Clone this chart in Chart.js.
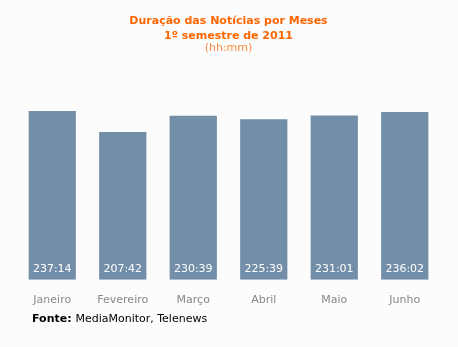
<!DOCTYPE html>
<html lang="pt">
<head>
<meta charset="UTF-8">
<title>Duração das Notícias por Meses</title>
<script src="https://cdn.jsdelivr.net/npm/chart.js"></script>
<style>
  html, body { margin: 0; padding: 0; background: #fcfcfc; }
  #wrap { width: 458px; height: 347px; position: relative; }
</style>
</head>
<body>
<div id="wrap"><canvas id="chart"></canvas></div>
<script>
// meses do 1º semestre e duração em hh:mm
const months = ['Janeiro', 'Fevereiro', 'Março', 'Abril', 'Maio', 'Junho'];
const durations = ['237:14', '207:42', '230:39', '225:39', '231:01', '236:02'];
const source = 'MediaMonitor, Telenews';

// converte "hh:mm" em horas decimais para a escala
const hours = durations.map(d => {
  const [h, m] = d.split(':').map(Number);
  return h + m / 60;
});

const FONT = 'DejaVu Sans, Verdana, sans-serif';

// rótulo hh:mm no fundo de cada barra + fonte no rodapé
const labelsPlugin = {
  id: 'labels',
  afterDatasetsDraw(chart) {
    const ctx = chart.ctx;
    const meta = chart.getDatasetMeta(0);
    ctx.save();
    ctx.fillStyle = '#ffffff';
    ctx.font = '11px ' + FONT;
    ctx.textAlign = 'center';
    ctx.textBaseline = 'alphabetic';
    meta.data.forEach((bar, i) => {
      ctx.fillText(durations[i], bar.x, bar.base - 8);
    });
    ctx.restore();
  },
  afterDraw(chart) {
    const ctx = chart.ctx;
    ctx.save();
    ctx.textBaseline = 'middle';
    ctx.textAlign = 'left';
    ctx.fillStyle = '#000000';
    ctx.font = 'bold 11px ' + FONT;
    const x = 32, y = 319;
    ctx.fillText('Fonte:', x, y);
    const w = ctx.measureText('Fonte: ').width;
    ctx.font = '11px ' + FONT;
    ctx.fillText(source, x + w, y);
    ctx.restore();
  }
};

new Chart(document.getElementById('chart'), {
  type: 'bar',
  data: {
    labels: months,
    datasets: [{
      data: hours,
      backgroundColor: '#728ea9',
      categoryPercentage: 0.67,
      barPercentage: 1
    }]
  },
  options: {
    responsive: true,
    maintainAspectRatio: false,
    animation: false,
    layout: { padding: { top: 0, left: 17, right: 18, bottom: 34 } },
    plugins: {
      legend: { display: false },
      tooltip: { enabled: false },
      title: {
        display: true,
        text: ['Duração das Notícias por Meses', '1º semestre de 2011'],
        color: '#ff6600',
        font: { family: FONT, size: 11, weight: 'bold', lineHeight: 1.4 },
        padding: { top: 13, bottom: 0 }
      },
      subtitle: {
        display: true,
        text: '(hh:mm)',
        color: '#ff8a3d',
        font: { family: FONT, size: 11, lineHeight: 1.2 },
        padding: { top: -2, bottom: 47 }
      }
    },
    scales: {
      x: {
        grid: { display: false },
        border: { display: false },
        ticks: { color: '#888888', font: { family: FONT, size: 11 }, padding: 6 }
      },
      y: {
        display: false,
        min: 0,
        max: 250
      }
    }
  },
  plugins: [labelsPlugin]
});
</script>
</body>
</html>
